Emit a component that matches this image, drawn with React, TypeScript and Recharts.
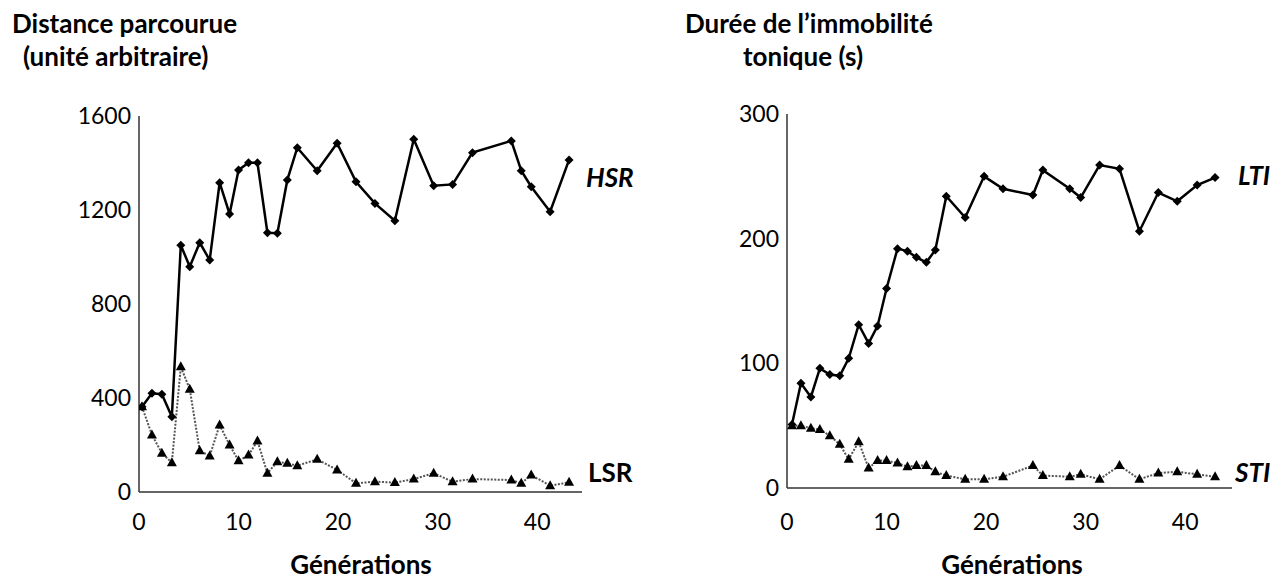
import { LineChart, Line, XAxis, YAxis } from 'recharts';

// left panel: distance travelled (HSR / LSR)
const genLeft = [0.3, 1.3, 2.3, 3.3, 4.2, 5.1, 6.1, 7.1, 8.1, 9.1, 10, 11, 11.9, 12.9, 13.9, 14.9, 15.9, 17.9, 19.9, 21.8, 23.7, 25.7, 27.6, 29.6, 31.5, 33.5, 37.4, 38.4, 39.4, 41.3, 43.2];
const hsr = [363, 420, 416, 320, 1050, 959, 1061, 987, 1316, 1183, 1370, 1401, 1401, 1103, 1101, 1328, 1465, 1367, 1484, 1320, 1228, 1154, 1501, 1303, 1309, 1444, 1494, 1367, 1299, 1193, 1413];
const lsr = [363, 243, 165, 125, 533, 437, 176, 153, 285, 200, 133, 157, 217, 80, 129, 122, 112, 139, 94, 37, 44, 40, 55, 80, 44, 55, 51, 37, 72, 27, 41];

// right panel: tonic immobility duration (LTI / STI)
const genRight = [0.5, 1.4, 2.4, 3.3, 4.3, 5.3, 6.2, 7.2, 8.2, 9.1, 10, 11.1, 12.1, 13, 14, 14.9, 16, 17.9, 19.8, 21.7, 24.7, 25.7, 28.4, 29.5, 31.4, 33.4, 35.4, 37.3, 39.2, 41.2, 43];
const lti = [51, 84, 73, 96, 91, 90, 104, 131, 116, 130, 160, 192, 190, 185, 181, 191, 234, 217, 250, 240, 235, 255, 240, 233, 259, 256, 206, 237, 230, 243, 249];
const sti = [50, 50, 48, 47, 42, 35, 23, 37, 16, 22, 22, 20, 17, 18, 18, 13, 10, 7, 7, 9, 18, 10, 9, 11, 7, 18, 7, 12, 13, 11, 9];

const xTicks = [0, 10, 20, 30, 40];
const leftYTicks = [0, 400, 800, 1200, 1600];
const rightYTicks = [0, 100, 200, 300];

const leftData = genLeft.map((g, i) => ({ gen: g, high: hsr[i], low: lsr[i] }));
const rightData = genRight.map((g, i) => ({ gen: g, high: lti[i], low: sti[i] }));

const FONT = 'Lato';
const tickStyle = { fontSize: 23, fill: '#000', fontFamily: FONT };

const Diamond = (props: any) => {
  const { cx, cy, index } = props;
  if (cx == null || cy == null) return <g key={index} />;
  const s = 4.5;
  return (
    <polygon
      key={index}
      points={`${cx},${cy - s} ${cx + s},${cy} ${cx},${cy + s} ${cx - s},${cy}`}
      fill="#000"
    />
  );
};

const Triangle = (props: any) => {
  const { cx, cy, index } = props;
  if (cx == null || cy == null) return <g key={index} />;
  return (
    <polygon
      key={index}
      points={`${cx},${cy - 5.5} ${cx + 5},${cy + 3.5} ${cx - 5},${cy + 3.5}`}
      fill="#000"
    />
  );
};

function Panel({ data, width, height, margin, yWidth, xHeight, xMax, yMax, yTicks, tickMarginX }: any) {
  return (
    <LineChart width={width} height={height} data={data} margin={margin}>
      <XAxis
        dataKey="gen"
        type="number"
        domain={[0, xMax]}
        ticks={xTicks}
        tickLine={false}
        axisLine={{ stroke: '#333', strokeWidth: 1.5 }}
        tick={tickStyle}
        tickMargin={tickMarginX}
        height={xHeight}
        allowDataOverflow
      />
      <YAxis
        type="number"
        domain={[0, yMax]}
        ticks={yTicks}
        tickLine={false}
        axisLine={{ stroke: '#333', strokeWidth: 1.5 }}
        tick={tickStyle}
        width={yWidth}
        interval={0}
      />
      <Line
        type="linear"
        dataKey="low"
        stroke="#555"
        strokeWidth={2}
        strokeDasharray="2 1.5"
        dot={(p: any) => <Triangle {...p} key={p.index} />}
        activeDot={false}
        isAnimationActive={false}
      />
      <Line
        type="linear"
        dataKey="high"
        stroke="#000"
        strokeWidth={2.5}
        dot={(p: any) => <Diamond {...p} key={p.index} />}
        activeDot={false}
        isAnimationActive={false}
      />
    </LineChart>
  );
}

export default function App() {
  return (
    <div style={{ position: 'absolute', left: 0, top: 0, width: 1275, height: 581, background: '#fff', overflow: 'hidden' }}>
      <div style={{ position: 'absolute', left: 0, top: 0 }}>
        <Panel
          data={leftData}
          width={600}
          height={581}
          margin={{ top: 116, right: 18, bottom: 0, left: 0 }}
          yWidth={139}
          xHeight={89}
          xMax={44.5}
          yMax={1600}
          yTicks={leftYTicks}
          tickMarginX={16}
        />
      </div>
      <div style={{ position: 'absolute', left: 640, top: 0 }}>
        <Panel
          data={rightData}
          width={635}
          height={581}
          margin={{ top: 114, right: 43, bottom: 0, left: 0 }}
          yWidth={147}
          xHeight={93}
          xMax={44.7}
          yMax={300}
          yTicks={rightYTicks}
          tickMarginX={20}
        />
      </div>
      <svg width={1275} height={581} style={{ position: 'absolute', left: 0, top: 0, pointerEvents: 'none' }}>
        <g fontFamily={FONT} fontWeight="bold" fontSize={26} fill="#000">
          <text x={12} y={33}>Distance parcourue</text>
          <text x={23} y={66}>(unité arbitraire)</text>
          <text x={685} y={33}>Durée de l’immobilité</text>
          <text x={743} y={66}>tonique (s)</text>
          <text x={361} y={574} textAnchor="middle">Générations</text>
          <text x={1012} y={574} textAnchor="middle">Générations</text>
          <text x={586} y={187} fontStyle="italic">HSR</text>
          <text x={588} y={482}>LSR</text>
          <text x={1238} y={185} fontStyle="italic">LTI</text>
          <text x={1235} y={482} fontStyle="italic">STI</text>
        </g>
      </svg>
    </div>
  );
}
